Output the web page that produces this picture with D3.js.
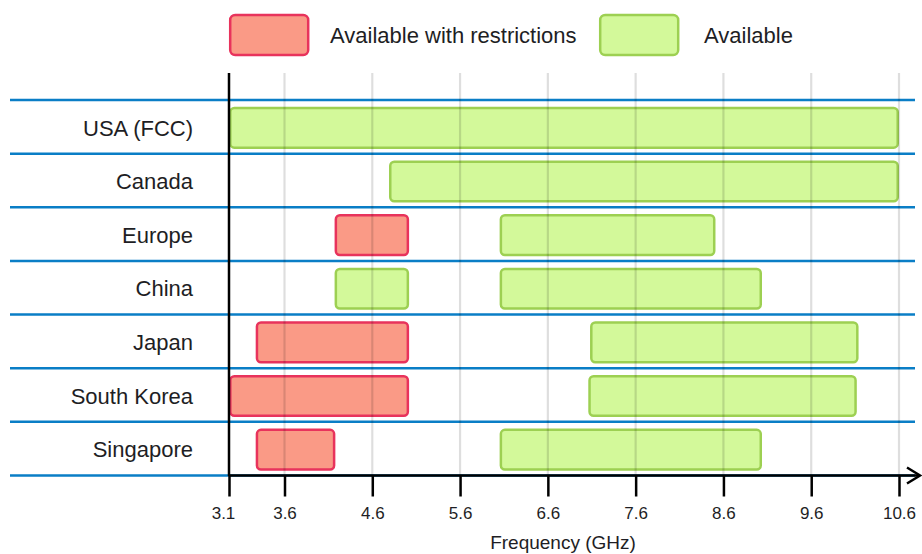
<!DOCTYPE html>
<html>
<head>
<meta charset="utf-8">
<script src="https://cdn.jsdelivr.net/npm/d3@7"></script>
<style>
  body { margin: 0; background: #fff; }
  text { font-family: "Liberation Sans", Arial, sans-serif; fill: #1e1e24; }
</style>
</head>
<body>
<div id="chart-area"></div>
<script>
// countries, top to bottom
var countries = ["USA (FCC)", "Canada", "Europe", "China", "Japan", "South Korea", "Singapore"];
// frequency ranges in GHz
var restricted = [
    { country: "Europe",      from: 4.17, to: 5.02 },
    { country: "Japan",       from: 3.34, to: 5.02 },
    { country: "South Korea", from: 3.1,  to: 5.02 },
    { country: "Singapore",   from: 3.34, to: 4.18 }
];
var available = [
    { country: "USA (FCC)",   from: 3.1,  to: 10.6 },
    { country: "Canada",      from: 4.79, to: 10.6 },
    { country: "Europe",      from: 6.05, to: 8.51 },
    { country: "China",       from: 4.17, to: 5.02 },
    { country: "China",       from: 6.05, to: 9.04 },
    { country: "Japan",       from: 7.08, to: 10.14 },
    { country: "South Korea", from: 7.06, to: 10.12 },
    { country: "Singapore",   from: 6.05, to: 9.04 }
];
var tickValues = [3.1, 3.6, 4.6, 5.6, 6.6, 7.6, 8.6, 9.6, 10.6];
var legendItems = ["Available with restrictions", "Available"];

var width = 922, height = 554;
var red = { fill: "#fa9a86", stroke: "#e8335c" };
var green = { fill: "#d3f99a", stroke: "#9dd052" };

var svg = d3.select("#chart-area")
    .append("svg")
        .attr("width", width)
        .attr("height", height);

// the 3.1 - 3.6 step is drawn narrower than the others
var x = d3.scaleLinear()
    .domain([3.1, 3.6, 10.6])
    .range([229, 284.5, 899]);

var y = d3.scaleBand()
    .domain(countries)
    .range([100, 475.5]);

// row separators
var seps = d3.range(countries.length + 1).map(i => 100 + i * y.step());
svg.selectAll("line.sep")
    .data(seps)
    .join("line")
        .attr("class", "sep")
        .attr("x1", 10).attr("x2", 915)
        .attr("y1", d => d).attr("y2", d => d)
        .attr("stroke", "#0a7ec6")
        .attr("stroke-width", 2.5);

// bars
function drawBars(data, col, cls) {
    svg.selectAll("rect." + cls)
        .data(data)
        .join("rect")
            .attr("class", cls)
            .attr("x", d => x(d.from) + 1.3)
            .attr("width", d => x(d.to) - x(d.from) - 2.6)
            .attr("y", d => y(d.country) + 8)
            .attr("height", y.bandwidth() - 14)
            .attr("rx", 4)
            .attr("fill", col.fill)
            .attr("stroke", col.stroke)
            .attr("stroke-width", 2.5);
}
drawBars(restricted, red, "restr");
drawBars(available, green, "avail");

// vertical grid, drawn over the bars
svg.selectAll("line.grid")
    .data(tickValues.slice(1))
    .join("line")
        .attr("class", "grid")
        .attr("x1", d => x(d)).attr("x2", d => x(d))
        .attr("y1", 73).attr("y2", 475)
        .attr("stroke", "rgba(0,0,0,0.13)")
        .attr("stroke-width", 2.2);

// x axis
var xAxis = d3.axisBottom(x)
    .tickValues(tickValues)
    .tickSize(21)
    .tickPadding(10)
    .tickFormat(d3.format(".1f"));

var gx = svg.append("g")
    .attr("transform", "translate(0,475.5)")
    .call(xAxis);
gx.select(".domain").remove();
gx.selectAll(".tick line").attr("stroke", "#000").attr("stroke-width", 2.5);
gx.selectAll(".tick text")
    .style("font-size", "17px")
    .attr("fill", "#1e1e24")
    .attr("dx", (d, i) => i == 0 ? -6 : 0);

svg.append("line")
    .attr("x1", 229).attr("x2", 920)
    .attr("y1", 475.5).attr("y2", 475.5)
    .attr("stroke", "#000").attr("stroke-width", 2.5);
svg.append("path")
    .attr("d", "M907,467.5L920,475.5L907,483.5")
    .attr("fill", "none")
    .attr("stroke", "#000")
    .attr("stroke-width", 2.5);

// y axis line
svg.append("line")
    .attr("x1", 229).attr("x2", 229)
    .attr("y1", 73).attr("y2", 476)
    .attr("stroke", "#000").attr("stroke-width", 2.5);

// country labels
svg.selectAll("text.country")
    .data(countries)
    .join("text")
        .attr("class", "country")
        .attr("x", 193)
        .attr("y", d => y(d) + y.bandwidth() / 2 + 1)
        .attr("dy", "0.35em")
        .attr("text-anchor", "end")
        .style("font-size", "22px")
        .text(d => d);

svg.append("text")
    .attr("x", 563)
    .attr("y", 549)
    .attr("text-anchor", "middle")
    .style("font-size", "19px")
    .text("Frequency (GHz)");

// legend
var legendX = [229, 599];
var legendCols = [red, green];
var lg = svg.selectAll("g.legend")
    .data(legendItems)
    .join("g")
        .attr("class", "legend")
        .attr("transform", (d, i) => "translate(" + legendX[i] + ",15)");
lg.append("rect")
    .attr("x", 1.2).attr("y", 0)
    .attr("width", 78).attr("height", 40)
    .attr("rx", 5)
    .attr("fill", (d, i) => legendCols[i].fill)
    .attr("stroke", (d, i) => legendCols[i].stroke)
    .attr("stroke-width", 2.5);
lg.append("text")
    .attr("x", (d, i) => i == 0 ? 101 : 105)
    .attr("y", 20)
    .attr("dy", "0.35em")
    .style("font-size", "22px")
    .text(d => d);
</script>
</body>
</html>
